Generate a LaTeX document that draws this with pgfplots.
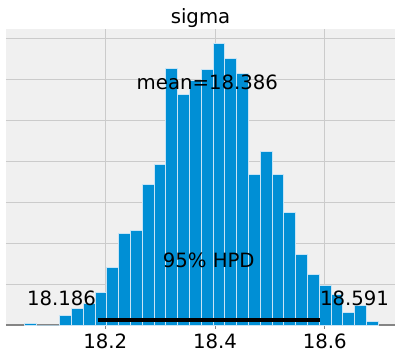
\documentclass[border=0pt]{standalone}
\usepackage{fontspec}
\setmainfont{DejaVu Sans}
\usepackage{pgfplots}
\pgfplotsset{compat=1.18}
\definecolor{barblue}{HTML}{008FD5}
\definecolor{baredge}{HTML}{C8E4F5}
\definecolor{bgcol}{HTML}{F0F0F0}
\definecolor{gridcol}{HTML}{CBCBCB}
\definecolor{axcol}{HTML}{858585}
\begin{document}
\fontsize{19.7}{23}\selectfont
\begin{tikzpicture}
\fill[white] (-6pt,-29pt) rectangle (396pt,325pt);
\useasboundingbox (-6pt,-29pt) rectangle (396pt,325pt);
\begin{axis}[
  at={(0,0)}, anchor=south west,
  scale only axis, width=389pt, height=295.7pt,
  xmin=18.0189, xmax=18.7281, ymin=0, ymax=7.23,
  axis background/.style={fill=bgcol},
  axis x line*=bottom, axis y line*=left,
  x axis line style={axcol, line width=2.7pt, -},
  y axis line style={draw=none},
  xtick={18.2,18.4,18.6},
  ytick={0,1,2,3,4,5,6,7},
  yticklabels={},
  ytick style={draw=none},
  xtick style={axcol, line width=0.8pt},
  tick align=outside, major tick length=3.5pt,
  grid=major,
  major grid style={gridcol, line width=1pt},
  /pgf/number format/assume math mode=true,
  xticklabel style={/pgf/number format/fixed, /pgf/number format/precision=1, /pgf/number format/fixed zerofill, anchor=base, yshift=-20pt},
  title={sigma},
  title style={at={(0.5,1)}, anchor=base, yshift=0pt},
  clip=false,
]
\addplot[ybar interval, fill=barblue, draw=baredge, line width=0.9pt] coordinates {
(18.0523,0.04) (18.0738,0) (18.0953,0) (18.1168,0.236) (18.1384,0.40)
(18.1599,0.53) (18.1814,0.79) (18.2029,1.41) (18.2244,2.23) (18.2459,2.31)
(18.2674,3.44) (18.2889,3.92) (18.3105,6.27) (18.3320,5.63) (18.3535,5.97)
(18.3750,6.24) (18.3965,6.88) (18.4180,6.51) (18.4395,6.14) (18.4610,3.68)
(18.4826,4.25) (18.5041,3.68) (18.5256,2.75) (18.5471,1.72) (18.5686,1.23)
(18.5901,0.97) (18.6116,0.74) (18.6331,0.31) (18.6547,0.48) (18.6762,0.08)
(18.6977,0)
};
\addplot[black, line width=3.8pt, line cap=butt] coordinates {(18.186,0.122) (18.591,0.122)};
\node[anchor=base east, inner sep=1.5pt] at (axis cs:18.186,0.465) {18.186};
\node[anchor=base west, inner sep=0pt] at (axis cs:18.591,0.465) {18.591};
\node[anchor=base] at (axis cs:18.3885,1.40) {95\% HPD};
\node[anchor=base] at (axis cs:18.386,5.77) {mean=18.386};
\end{axis}
\end{tikzpicture}
\end{document}
